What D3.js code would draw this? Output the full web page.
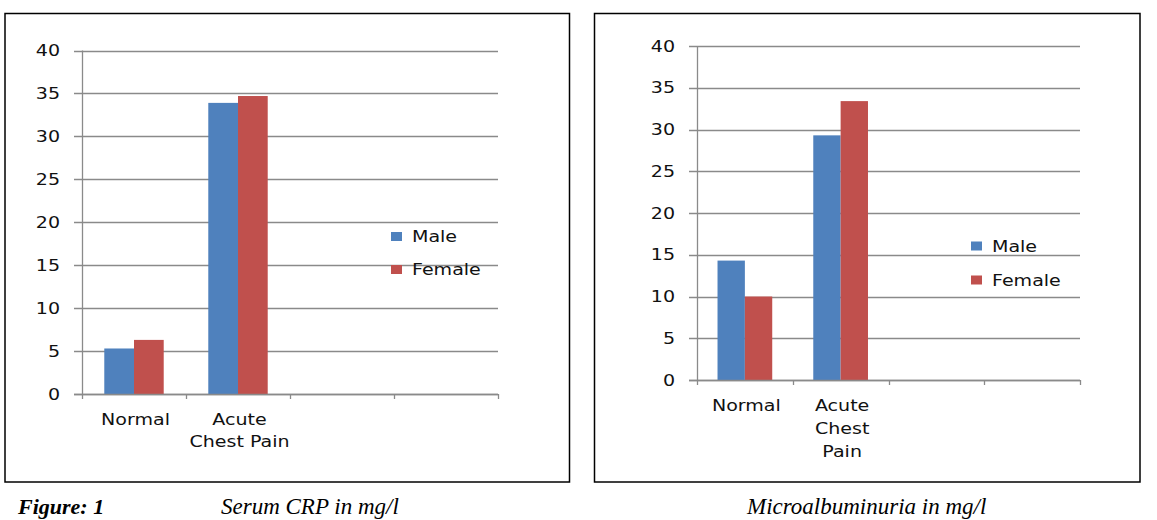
<!DOCTYPE html>
<html>
<head>
<meta charset="utf-8">
<script src="https://cdn.jsdelivr.net/npm/d3@7"></script>
<style>
  html, body { margin: 0; padding: 0; background: #fff; }
  svg { display: block; }
  .lbl { font-family: "DejaVu Sans", Verdana, sans-serif; font-size: 15px; fill: #111; }
  .cap { font-family: "Liberation Serif", "Times New Roman", serif; font-style: italic; font-size: 21px; fill: #000; }
</style>
</head>
<body>
<svg id="chart" width="1157" height="520"></svg>
<script>
// ---- data ----
const categories = ["Normal", "Acute Chest Pain", "", ""];
const seriesNames = ["Male", "Female"];
const crpMale = [5.3, 33.9];
const crpFemale = [6.3, 34.7];
const microMale = [14.3, 29.3];
const microFemale = [10, 33.4];
const yTicks = [0, 5, 10, 15, 20, 25, 30, 35, 40];
const crpLabelLines = [["Normal"], ["Acute", "Chest Pain"], [], []];
const microLabelLines = [["Normal"], ["Acute", "Chest", "Pain"], [], []];
const captions = ["Figure: 1", "Serum CRP in mg/l", "Microalbuminuria in mg/l"];

const colors = ["#4F81BD", "#C0504D"];
const gridColor = "#8a8a8a";
const SX = 1.27; // horizontal stretch of the original lettering

const svg = d3.select("#chart");

function sText(g, x, y, str, anchor, cls) {
  return g.append("text")
    .attr("class", cls || "lbl")
    .attr("transform", `translate(${x},${y}) scale(${SX},1)`)
    .attr("text-anchor", anchor || "start")
    .text(str);
}

function drawChart(cfg) {
  const g = svg.append("g");
  // frame
  g.append("rect")
    .attr("x", cfg.box[0]).attr("y", cfg.box[1])
    .attr("width", cfg.box[2] - cfg.box[0]).attr("height", cfg.box[3] - cfg.box[1])
    .attr("fill", "none").attr("stroke", "#000").attr("stroke-width", 1.5);

  const x = d3.scaleBand().domain(d3.range(categories.length))
    .range([cfg.x0, cfg.x1]).paddingInner(0).paddingOuter(0);
  const y = d3.scaleLinear().domain([0, 40]).range([cfg.y0, cfg.y1]);
  const bw = x.bandwidth() / 3.5;
  const xs = d3.scaleBand().domain([0, 1])
    .range([x.bandwidth() / 2 - bw, x.bandwidth() / 2 + bw]);

  // gridlines (including the left tick extension)
  g.append("g").selectAll("line").data(yTicks).join("line")
    .attr("x1", cfg.x0 - 8).attr("x2", cfg.x1)
    .attr("y1", d => Math.round(y(d)) + 0.5).attr("y2", d => Math.round(y(d)) + 0.5)
    .attr("stroke", gridColor).attr("stroke-width", 1.3);

  // y axis line
  g.append("line")
    .attr("x1", cfg.x0 + 0.5).attr("x2", cfg.x0 + 0.5)
    .attr("y1", y(40)).attr("y2", y(0))
    .attr("stroke", gridColor).attr("stroke-width", 1.3);

  // x axis ticks at category boundaries
  const bounds = d3.range(categories.length + 1).map(i => cfg.x0 + i * x.step());
  g.append("g").selectAll("line").data(bounds).join("line")
    .attr("x1", d => Math.round(d) + 0.5).attr("x2", d => Math.round(d) + 0.5)
    .attr("y1", y(0)).attr("y2", y(0) + 5)
    .attr("stroke", gridColor).attr("stroke-width", 1.3);

  // bars
  const series = [cfg.male, cfg.female];
  series.forEach((vals, si) => {
    g.append("g").selectAll("rect").data(vals).join("rect")
      .attr("x", (d, i) => x(i) + xs(si))
      .attr("width", bw)
      .attr("y", d => y(d))
      .attr("height", d => y(0) - y(d))
      .attr("fill", colors[si]);
  });

  // x axis baseline
  g.append("line")
    .attr("x1", cfg.x0 - 8).attr("x2", cfg.x1)
    .attr("y1", Math.round(y(0)) + 0.5).attr("y2", Math.round(y(0)) + 0.5)
    .attr("stroke", gridColor).attr("stroke-width", 1.3);

  // y labels
  yTicks.forEach(t => sText(g, cfg.x0 - 22, y(t) + 5.5, String(t), "end"));

  // category labels
  cfg.lines.forEach((lines, i) => {
    lines.forEach((ln, j) => {
      sText(g, x(i) + x.bandwidth() / 2 + 1.5, y(0) + 31 + j * cfg.lineH, ln, "middle");
    });
  });

  // legend
  seriesNames.forEach((name, si) => {
    const ly = cfg.legend[1] + si * cfg.legend[2];
    g.append("rect").attr("x", cfg.legend[0]).attr("y", ly - 9)
      .attr("width", 11).attr("height", 9).attr("fill", colors[si]);
    sText(g, cfg.legend[0] + 21, ly + 1, name, "start");
  });
}

drawChart({
  box: [5, 13.5, 569.5, 482], x0: 82, x1: 498, y0: 394, y1: 50.5,
  male: crpMale, female: crpFemale, lines: crpLabelLines, lineH: 22,
  legend: [391, 241, 33]
});
drawChart({
  box: [594.5, 13.5, 1140, 482], x0: 697, x1: 1080, y0: 380, y1: 46,
  male: microMale, female: microFemale, lines: microLabelLines, lineH: 23,
  legend: [971, 250.5, 34]
});

// captions
svg.append("text").attr("class", "cap").attr("x", 18).attr("y", 514)
  .style("font-weight", "bold").style("font-size", "22px").text(captions[0]);
svg.append("text").attr("class", "cap").attr("x", 221).attr("y", 514)
  .style("font-size", "23px").text(captions[1]);
svg.append("text").attr("class", "cap").attr("x", 747).attr("y", 514)
  .style("font-size", "23px").text(captions[2]);
</script>
</body>
</html>
